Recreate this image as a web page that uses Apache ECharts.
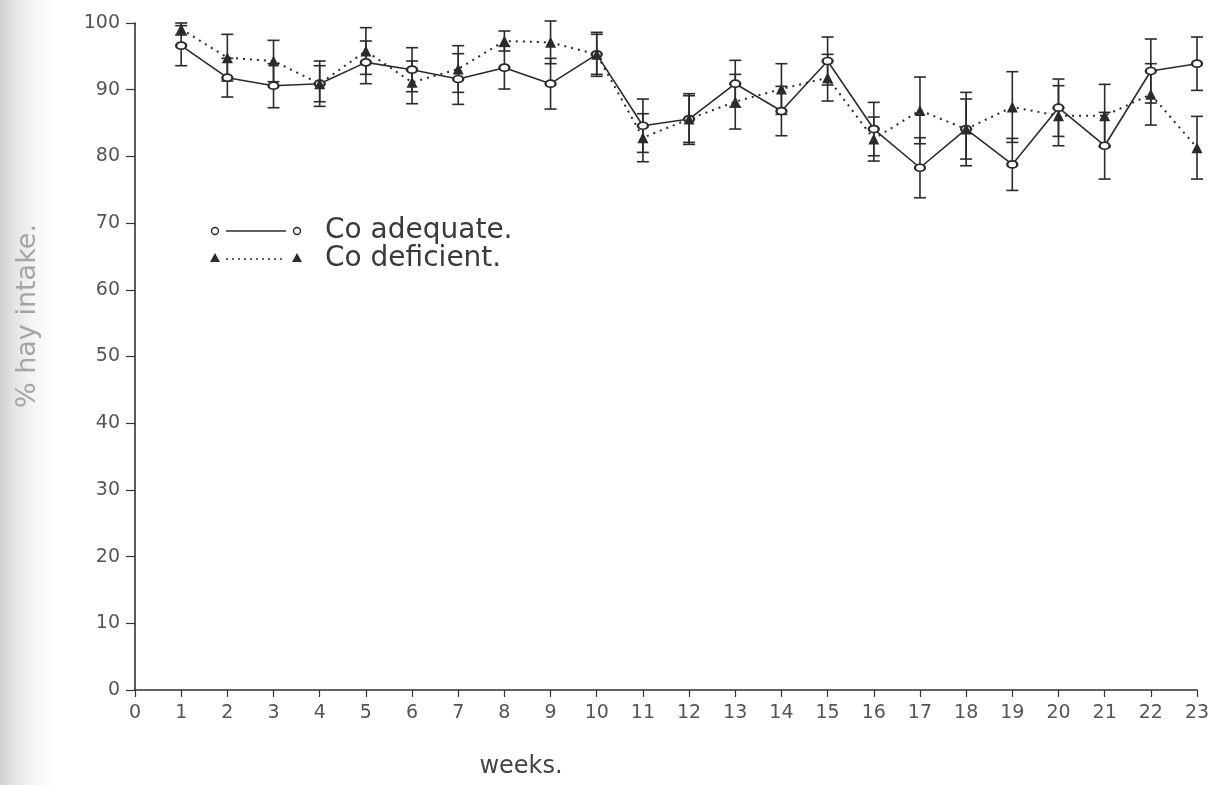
<!DOCTYPE html>
<html>
<head>
<meta charset="utf-8">
<script src="https://cdn.jsdelivr.net/npm/echarts@6/dist/echarts.min.js"></script>
<style>
  html, body { margin: 0; padding: 0; }
  body {
    width: 1228px; height: 785px; overflow: hidden;
    background: linear-gradient(to right, #cfcfcf 0px, #e4e4e4 14px, #f4f4f4 32px, #ffffff 55px);
  }
  #chart { width: 1228px; height: 785px; }
</style>
</head>
<body>
<div id="chart"></div>
<script>
// Weekly hay intake (% of offered) for cobalt-adequate and cobalt-deficient groups
const weeks = [1, 2, 3, 4, 5, 6, 7, 8, 9, 10, 11, 12, 13, 14, 15, 16, 17, 18, 19, 20, 21, 22, 23];

const adequateMean = [96.6, 91.8, 90.6, 90.9, 94.1, 93.0, 91.6, 93.3, 90.9, 95.3, 84.6, 85.6,
                      90.9, 86.8, 94.3, 84.1, 78.3, 84.1, 78.8, 87.3, 81.6, 92.8, 93.9];
const adequateSE   = [3.0, 2.9, 3.3, 3.4, 3.2, 3.3, 3.8, 3.2, 3.8, 3.3, 4.0, 3.8,
                      3.5, 3.7, 3.6, 4.0, 4.5, 4.5, 3.9, 4.3, 5.0, 4.8, 4.0];

const deficientMean = [99.1, 94.8, 94.3, 90.9, 95.8, 91.1, 93.1, 97.3, 97.1, 95.3, 82.8, 85.6,
                       88.2, 90.1, 91.8, 82.6, 86.9, 84.1, 87.4, 86.1, 86.1, 89.3, 81.3];
const deficientSE   = [0.9, 3.5, 3.1, 2.7, 3.5, 3.2, 3.5, 1.5, 3.2, 3.0, 3.6, 3.5,
                       4.1, 3.8, 3.5, 3.3, 5.0, 5.5, 5.3, 4.5, 4.7, 4.6, 4.7];

const yTicks = { min: 0, max: 100, step: 10 };
const xTicks = { min: 0, max: 23, step: 1 };

const ink = '#2b2b2b';
const font = 'DejaVu Sans, sans-serif';

function pairs(means) { return weeks.map((w, i) => [w, means[i]]); }
function bars(means, se) { return weeks.map((w, i) => [w, means[i] - se[i], means[i] + se[i]]); }

// vertical whisker with horizontal caps at both ends
function errorBarItem(params, api) {
  const x = api.value(0);
  const lo = api.coord([x, api.value(1)]);
  const hi = api.coord([x, api.value(2)]);
  const cap = 6;
  const style = { stroke: ink, lineWidth: 1.6 };
  return {
    type: 'group',
    children: [
      { type: 'line', shape: { x1: lo[0], y1: lo[1], x2: hi[0], y2: hi[1] }, style },
      { type: 'line', shape: { x1: lo[0] - cap, y1: lo[1], x2: lo[0] + cap, y2: lo[1] }, style },
      { type: 'line', shape: { x1: hi[0] - cap, y1: hi[1], x2: hi[0] + cap, y2: hi[1] }, style }
    ]
  };
}

const chart = echarts.init(document.getElementById('chart'), null, { renderer: 'canvas' });

chart.setOption({
  backgroundColor: 'transparent',
  animation: false,
  grid: { left: 135, right: 31, top: 23, bottom: 95, containLabel: false },
  xAxis: {
    type: 'value',
    min: xTicks.min, max: xTicks.max, interval: xTicks.step,
    axisLine: { lineStyle: { color: '#333', width: 1.6 } },
    axisTick: { length: 7, lineStyle: { color: '#333', width: 1.2 } },
    axisLabel: { color: '#555', fontSize: 19, fontFamily: font, margin: 14 },
    splitLine: { show: false }
  },
  yAxis: {
    type: 'value',
    min: yTicks.min, max: yTicks.max, interval: yTicks.step,
    axisLine: { show: true, lineStyle: { color: '#333', width: 1.6 } },
    axisTick: { show: true, length: 9, lineStyle: { color: '#333', width: 1.2 } },
    axisLabel: { color: '#555', fontSize: 19, fontFamily: font, margin: 15 },
    splitLine: { show: false }
  },
  series: [
    {
      name: 'Co adequate. bars',
      type: 'custom',
      renderItem: errorBarItem,
      data: bars(adequateMean, adequateSE),
      encode: { x: 0, y: [1, 2] },
      z: 1
    },
    {
      name: 'Co deficient. bars',
      type: 'custom',
      renderItem: errorBarItem,
      data: bars(deficientMean, deficientSE),
      encode: { x: 0, y: [1, 2] },
      z: 1
    },
    {
      name: 'Co adequate.',
      type: 'line',
      data: pairs(adequateMean),
      symbol: 'emptyCircle',
      symbolSize: [10, 7],
      showAllSymbol: true,
      lineStyle: { color: ink, width: 1.6, type: 'solid' },
      itemStyle: { color: ink, borderColor: ink, borderWidth: 1.6 },
      z: 3
    },
    {
      name: 'Co deficient.',
      type: 'line',
      data: pairs(deficientMean),
      symbol: 'triangle',
      symbolSize: 11,
      showAllSymbol: true,
      lineStyle: { color: ink, width: 2, type: [2, 5] },
      itemStyle: { color: ink },
      z: 3
    }
  ],
  graphic: [
    // key
    { type: 'circle', shape: { cx: 215, cy: 231, r: 3.5 }, style: { fill: '#fff', stroke: ink, lineWidth: 1.4 } },
    { type: 'line', shape: { x1: 226, y1: 231, x2: 286, y2: 231 }, style: { stroke: ink, lineWidth: 1.6 } },
    { type: 'circle', shape: { cx: 297, cy: 231, r: 3.5 }, style: { fill: '#fff', stroke: ink, lineWidth: 1.4 } },
    { type: 'text', x: 325, y: 231, style: { text: 'Co adequate.', fill: '#3a3a3a', fontSize: 28, fontFamily: font, verticalAlign: 'middle' } },
    { type: 'polygon', shape: { points: [[215, 253], [210, 262], [220, 262]] }, style: { fill: ink } },
    { type: 'line', shape: { x1: 226, y1: 259, x2: 286, y2: 259 }, style: { stroke: ink, lineWidth: 1.6, lineDash: [2, 4] } },
    { type: 'polygon', shape: { points: [[297, 253], [292, 262], [302, 262]] }, style: { fill: ink } },
    { type: 'text', x: 325, y: 259, style: { text: 'Co deficient.', fill: '#3a3a3a', fontSize: 28, fontFamily: font, verticalAlign: 'middle' } },
    // axis titles
    { type: 'text', x: 521, y: 767, style: { text: 'weeks.', fill: '#444', fontSize: 24, fontFamily: font, align: 'center', verticalAlign: 'middle' } },
    { type: 'text', x: 28, y: 316, rotation: Math.PI / 2, style: { text: '% hay intake.', fill: '#a5a5a5', fontSize: 27, fontFamily: font, align: 'center', verticalAlign: 'middle' } }
  ]
});
</script>
</body>
</html>
